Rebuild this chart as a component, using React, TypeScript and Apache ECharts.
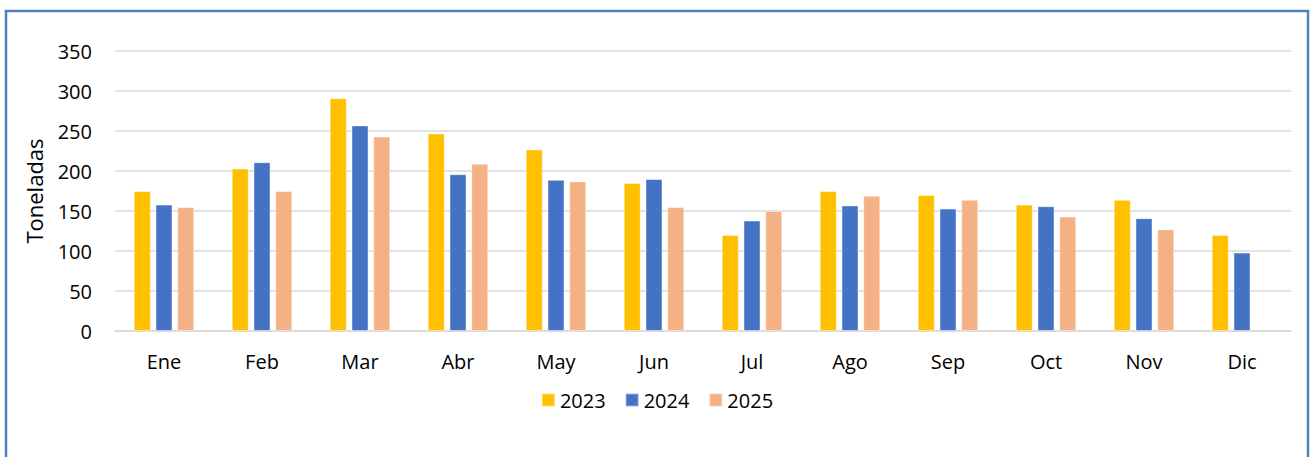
import React, { useEffect, useRef } from "react";
import * as echarts from "echarts";

const months = ["Ene", "Feb", "Mar", "Abr", "May", "Jun", "Jul", "Ago", "Sep", "Oct", "Nov", "Dic"];
const seriesNames = ["2023", "2024", "2025"];
const values2023 = [175, 203, 291, 247, 227, 185, 120, 175, 170, 158, 164, 120];
const values2024 = [158, 211, 257, 196, 189, 190, 138, 157, 153, 156, 141, 98];
const values2025 = [155, 175, 243, 209, 187, 155, 150, 169, 164, 143, 127, null];
const colors = ["#FFC000", "#4472C4", "#F4B183"];

export default function App() {
  const ref = useRef<HTMLDivElement>(null);
  useEffect(() => {
    if (!ref.current) return;
    const chart = echarts.init(ref.current, undefined, { renderer: "svg" });
    const font = "'Open Sans', sans-serif";
    const data = [values2023, values2024, values2025];
    chart.setOption({
      animation: false,
      backgroundColor: "#ffffff",
      textStyle: { fontFamily: font },
      graphic: [
        {
          type: "rect",
          shape: { x: 6, y: 11, width: 1302, height: 470 },
          style: { fill: "none", stroke: "#4F81BD", lineWidth: 2.5 },
          silent: true,
        },
      ],
      grid: { left: 115, right: 23, top: 51, bottom: 126, containLabel: false },
      legend: {
        data: seriesNames,
        bottom: 42,
        left: "center",
        itemWidth: 13,
        itemHeight: 13,
        itemGap: 19,
        icon: "rect",
        textStyle: { fontFamily: font, fontSize: 20, color: "#000" },
      },
      xAxis: {
        type: "category",
        data: months,
        axisLine: { show: true, lineStyle: { color: "#d9d9d9", width: 1.5 } },
        axisTick: { show: false },
        axisLabel: { fontFamily: font, fontSize: 20, color: "#000", margin: 20 },
      },
      yAxis: {
        type: "value",
        min: 0,
        max: 350,
        interval: 50,
        name: "Toneladas",
        nameLocation: "middle",
        nameGap: 70,
        nameRotate: 90,
        nameTextStyle: { fontFamily: font, fontSize: 22, color: "#000" },
        axisLine: { show: false },
        axisTick: { show: false },
        axisLabel: { fontFamily: font, fontSize: 20, color: "#000", margin: 23 },
        splitLine: { lineStyle: { color: "#d9d9d9", width: 1.5 } },
      },
      series: seriesNames.map((name, i) => ({
        name,
        type: "bar",
        data: data[i],
        barWidth: 17,
        barGap: "28%",
        itemStyle: { color: colors[i], borderColor: "rgba(255,255,255,0.45)", borderWidth: 1 },
      })),
    });
    return () => chart.dispose();
  }, []);
  return (
    <div style={{ position: "absolute", left: 0, top: 0, width: 1314, height: 457 }}>
      <div ref={ref} style={{ width: 1314, height: 457 }} />
    </div>
  );
}
